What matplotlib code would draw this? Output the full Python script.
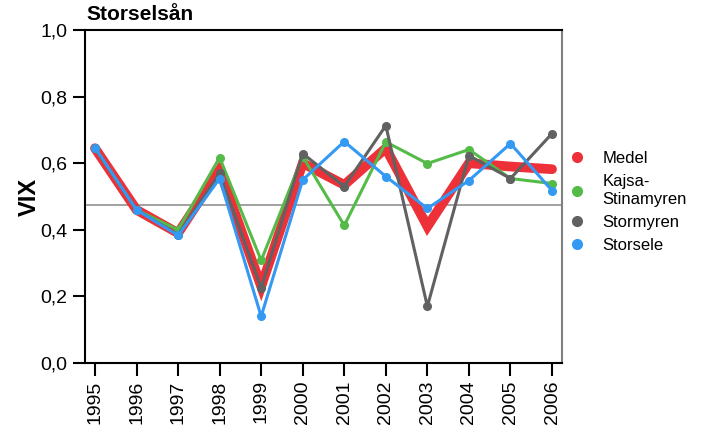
import matplotlib
matplotlib.use("Agg")
import matplotlib.pyplot as plt
from matplotlib.lines import Line2D
from matplotlib.ticker import FuncFormatter

plt.rcParams["font.family"] = ["Liberation Sans", "DejaVu Sans"]

# ---------------------------------------------------------------------------
# DATA
# ---------------------------------------------------------------------------
YEARS = [1995, 1996, 1997, 1998, 1999, 2000, 2001, 2002, 2003, 2004, 2005, 2006]
MEDEL = [0.645, 0.46, 0.39, 0.58, 0.23, 0.60, 0.535, 0.645, 0.41, 0.60, 0.59, 0.582]
KAJSA = [0.645, 0.46, 0.40, 0.617, 0.308, 0.62, 0.413, 0.664, 0.599, 0.641, 0.554, 0.539]
STORMYREN = [0.645, 0.46, 0.385, 0.57, 0.225, 0.629, 0.53, 0.713, 0.17, 0.623, 0.554, 0.689]
STORSELE = [0.647, 0.46, 0.383, 0.554, 0.14, 0.55, 0.665, 0.56, 0.464, 0.548, 0.659, 0.518]
REF_LEVEL = 0.473

SERIES = [
    ("Medel", MEDEL, "#ee3138"),
    ("Kajsa-\nStinamyren", KAJSA, "#55bb48"),
    ("Stormyren", STORMYREN, "#616161"),
    ("Storsele", STORSELE, "#3399f3"),
]

fig = plt.figure(figsize=(7.06, 4.32), dpi=100)
ax = fig.add_axes([85 / 706, 69 / 432, 477 / 706, 333 / 432])

ax.axhline(REF_LEVEL, color="#9a9a9a", lw=1.3, zorder=1)

# Medel: thick band, no markers
name, vals, col = SERIES[0]
ax.plot(YEARS, vals, color=col, lw=7, solid_capstyle="round",
        solid_joinstyle="miter", zorder=2)
for i, (name, vals, col) in enumerate(SERIES[1:]):
    ax.plot(YEARS, vals, color=col, lw=2.2, marker="o", ms=5.5,
            zorder=3 + i)

ax.set_xlim(1994.76, 2006.24)
ax.set_ylim(0, 1.0)
ax.set_xticks(YEARS)
ax.set_xticklabels([str(y) for y in YEARS], rotation=90, fontsize=14)
ax.set_yticks([0, 0.2, 0.4, 0.6, 0.8, 1.0])
ax.yaxis.set_major_formatter(FuncFormatter(lambda v, p: f"{v:.1f}".replace(".", ",")))
ax.tick_params(axis="y", labelsize=14, length=9, width=1.5, direction="out")
ax.tick_params(axis="x", length=9, width=1.5, direction="out")

for s in ["left", "bottom", "top"]:
    ax.spines[s].set_color("black")
    ax.spines[s].set_linewidth(1.5)
ax.spines["right"].set_color("#808080")
ax.spines["right"].set_linewidth(1.5)

ax.set_ylabel("VIX", fontsize=17, fontweight="bold", labelpad=0)
fig.text(86 / 706, 1 - 14 / 432, "Storselsån", fontsize=15, fontweight="bold",
         ha="left", va="center")

handles = [Line2D([], [], ls="none", marker="o", ms=7, color=c) for _, _, c in SERIES]
labels = [n for n, _, _ in SERIES]
fig.legend(handles, labels, loc="center left", bbox_to_anchor=(554 / 706, 1 - 202 / 432),
           frameon=False, fontsize=12, handletextpad=1.0, labelspacing=0.5,
           handlelength=1.0)

fig.savefig("out.png", dpi=100, facecolor="white")
